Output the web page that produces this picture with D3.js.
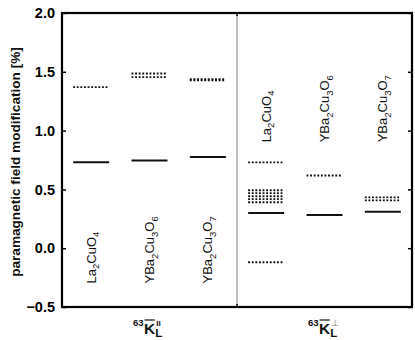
<!DOCTYPE html>
<html>
<head>
<meta charset="utf-8">
<script src="https://cdn.jsdelivr.net/npm/d3@7"></script>
<style>
  body { margin: 0; background: #fff; }
  svg { font-family: "Liberation Sans", Arial, Helvetica, sans-serif; }
</style>
</head>
<body>
<div id="chart"></div>
<script>
// compounds, as [text, isSubscript] pieces
const compounds = [
  [["La", 0], ["2", 1], ["CuO", 0], ["4", 1]],
  [["YBa", 0], ["2", 1], ["Cu", 0], ["3", 1], ["O", 0], ["6", 1]],
  [["YBa", 0], ["2", 1], ["Cu", 0], ["3", 1], ["O", 0], ["7", 1]]
];
const slots = ["par-La", "par-Y6", "par-Y7", "perp-La", "perp-Y6", "perp-Y7"];

// solid lines (one per slot)
const solidVals = [0.73, 0.745, 0.775, 0.30, 0.283, 0.31];
// dotted lines (several per slot)
const dottedVals = [
  [1.37],
  [1.485, 1.455],
  [1.437, 1.427],
  [0.73, 0.493, 0.468, 0.442, 0.417, 0.391, -0.12],
  [0.618],
  [0.432, 0.407]
];
const yTicks = [-0.5, 0.0, 0.5, 1.0, 1.5, 2.0];

const width = 415, height = 340;
const margin = {left: 62, right: 3, top: 13, bottom: 33};

const svg = d3.select("#chart").append("svg")
  .attr("width", width)
  .attr("height", height);

const x = d3.scaleBand()
  .domain(slots)
  .range([margin.left, width - margin.right]);

const y = d3.scaleLinear()
  .domain([-0.5, 2.0])
  .range([height - margin.bottom, margin.top]);

const x0 = margin.left, x1 = width - margin.right;
const y0 = margin.top, y1 = height - margin.bottom;
const xMid = (x0 + x1) / 2;
const halfSeg = 18;

// divider between the two panels
svg.append("line")
  .attr("x1", xMid).attr("x2", xMid)
  .attr("y1", y0).attr("y2", y1)
  .attr("stroke", "#aaa")
  .attr("stroke-width", 1.5);
svg.append("line")
  .attr("x1", xMid).attr("x2", xMid)
  .attr("y1", y0).attr("y2", y0 + 3)
  .attr("stroke", "#000").attr("stroke-width", 1.5);
svg.append("line")
  .attr("x1", xMid).attr("x2", xMid)
  .attr("y1", y1 - 3).attr("y2", y1)
  .attr("stroke", "#000").attr("stroke-width", 1.5);

// y axis, left
const yAxis = d3.axisLeft(y)
  .tickValues(yTicks)
  .tickFormat(d3.format(".1f"))
  .tickSize(-4)
  .tickPadding(7);

const gy = svg.append("g")
  .attr("transform", `translate(${x0},0)`)
  .call(yAxis);
gy.select(".domain").remove();
gy.selectAll(".tick line").attr("stroke-width", 1.5);
gy.selectAll(".tick text")
  .attr("font-size", 14.5)
  .attr("font-weight", "bold")
  .attr("fill", "#000")
  .attr("font-family", "'Liberation Sans', Arial, sans-serif");

// right ticks
const gyr = svg.append("g")
  .attr("transform", `translate(${x1},0)`)
  .call(d3.axisRight(y).tickValues(yTicks).tickSize(-4).tickFormat(""));
gyr.select(".domain").remove();
gyr.selectAll(".tick line").attr("stroke-width", 1.5);

// frame
svg.append("rect")
  .attr("x", x0).attr("y", y0)
  .attr("width", x1 - x0).attr("height", y1 - y0)
  .attr("fill", "none")
  .attr("stroke", "#000")
  .attr("stroke-width", 2.2);

// solid lines
svg.selectAll(".solid")
  .data(solidVals)
  .enter()
  .append("line")
  .attr("class", "solid")
  .attr("x1", (d, i) => x(slots[i]) + x.bandwidth() / 2 - halfSeg)
  .attr("x2", (d, i) => x(slots[i]) + x.bandwidth() / 2 + halfSeg)
  .attr("y1", d => y(d))
  .attr("y2", d => y(d))
  .attr("stroke", "#111")
  .attr("stroke-width", 2);

// dotted lines
const dots = [];
dottedVals.forEach((arr, i) => arr.forEach(v => dots.push({slot: slots[i], v: v})));

svg.selectAll(".dotted")
  .data(dots)
  .enter()
  .append("line")
  .attr("class", "dotted")
  .attr("x1", d => x(d.slot) + x.bandwidth() / 2 - halfSeg)
  .attr("x2", d => x(d.slot) + x.bandwidth() / 2 + halfSeg)
  .attr("y1", d => y(d.v))
  .attr("y2", d => y(d.v))
  .attr("stroke", "#111")
  .attr("stroke-width", 1.9)
  .attr("stroke-dasharray", "1.9,1.7");

// compound labels (rotated)
function compoundLabel(i, slot, yv) {
  const cx = x(slot) + x.bandwidth() / 2 + 4.5;
  const t = svg.append("text")
    .attr("transform", `translate(${cx},${y(yv)}) rotate(-90)`)
    .attr("font-size", 13)
    .attr("fill", "#111");
  let sub = false;
  compounds[i].forEach(([s, isSub]) => {
    const dy = isSub && !sub ? 3.5 : (!isSub && sub ? -3.5 : 0);
    t.append("tspan")
      .attr("dy", dy)
      .attr("font-size", isSub ? 9.5 : 13)
      .text(s);
    sub = !!isSub;
  });
}
[0, 1, 2].forEach(i => compoundLabel(i, slots[i], -0.3));
[0, 1, 2].forEach(i => compoundLabel(i, slots[i + 3], 0.9));

// y axis title
svg.append("text")
  .attr("transform", `translate(19.5,${(y0 + y1) / 2 + 2}) rotate(-90)`)
  .attr("text-anchor", "middle")
  .attr("font-size", 13.6)
  .attr("font-weight", "bold")
  .attr("fill", "#111")
  .text("paramagnetic field modification [%]");

// x labels: 63 K(bar) L with superscript
function kLabel(startX, sup, supBold) {
  const g = svg.append("g").attr("font-weight", "bold").attr("fill", "#111");
  const t63 = g.append("text")
    .attr("x", startX).attr("y", 326)
    .attr("font-size", 9.5)
    .text("63");
  const kx = startX + t63.node().getComputedTextLength() + 0.5;
  const tk = g.append("text")
    .attr("x", kx).attr("y", 333.5)
    .attr("font-size", 15.5)
    .text("K");
  const kw = tk.node().getComputedTextLength();
  g.append("line")
    .attr("x1", kx + 0.5).attr("x2", kx + kw - 0.5)
    .attr("y1", 320).attr("y2", 320)
    .attr("stroke", "#111").attr("stroke-width", 1.2);
  g.append("text")
    .attr("x", kx + kw).attr("y", 337)
    .attr("font-size", 11.5)
    .text("L");
  g.append("text")
    .attr("x", kx + kw + 1).attr("y", 326)
    .attr("font-size", supBold ? 8 : 9)
    .attr("font-weight", supBold ? "bold" : "normal")
    .attr("font-family", supBold ? null : "'DejaVu Sans', sans-serif")
    .attr("fill", supBold ? "#111" : "#777")
    .text(sup);
}
kLabel(133, "II", true);
kLabel(308, "\u22A5", false);
</script>
</body>
</html>
